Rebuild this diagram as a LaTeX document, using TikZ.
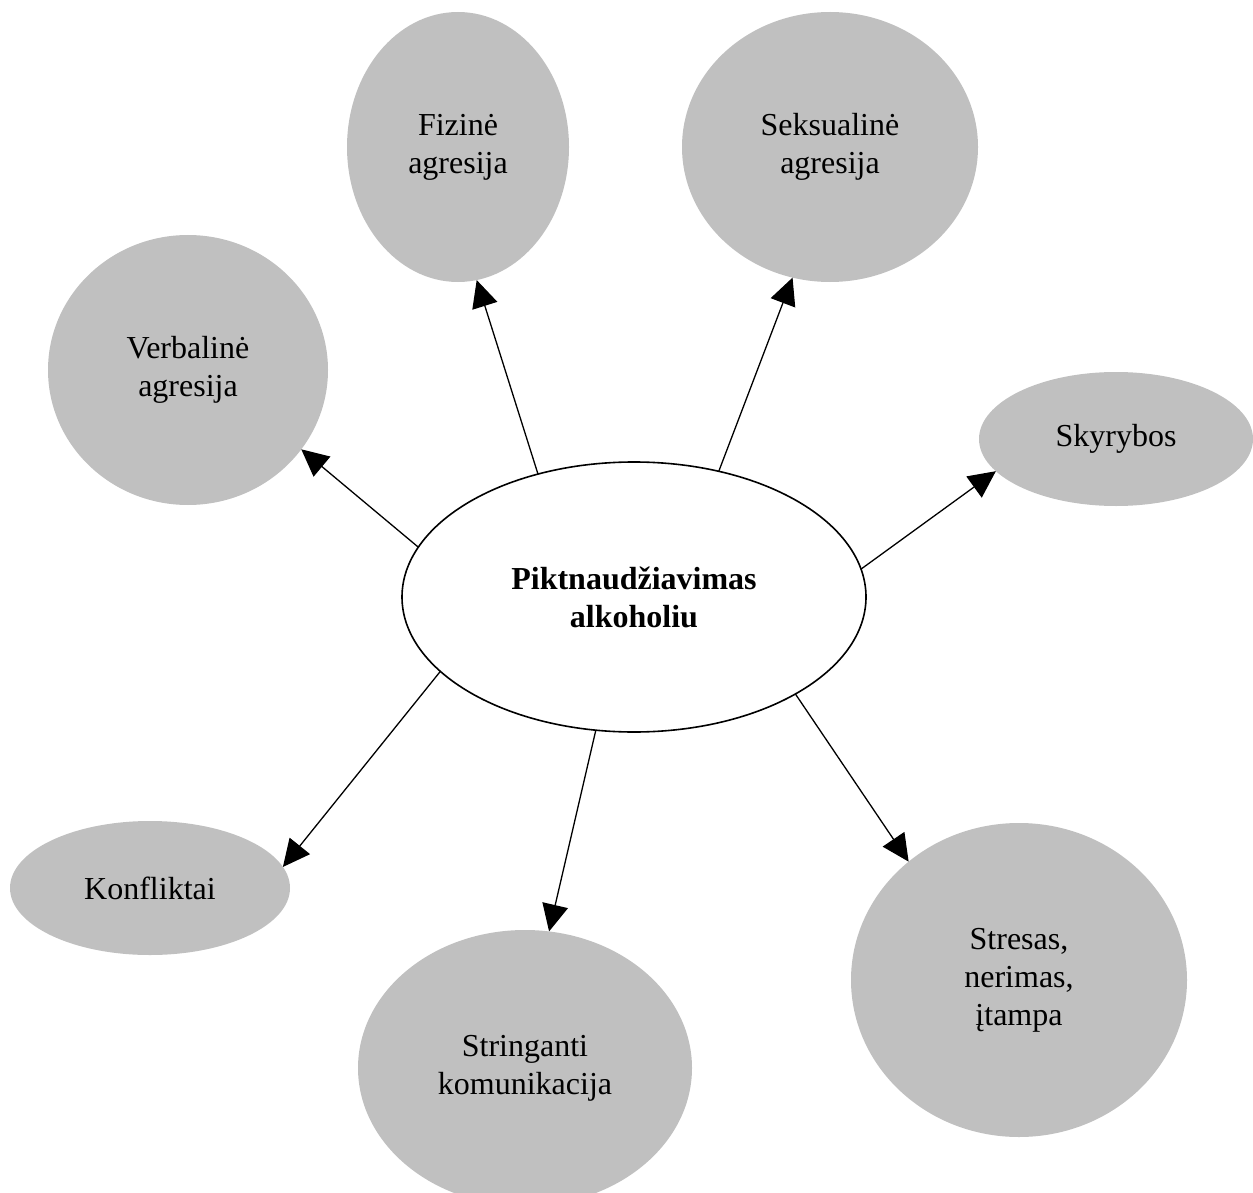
\documentclass[tikz,border=0pt]{standalone}
\usepackage{fontspec}
\setmainfont{Liberation Serif}
\usetikzlibrary{shapes.geometric,arrows.meta}
\definecolor{bubblegray}{RGB}{192,192,192}
\begin{document}
\begin{tikzpicture}[x=1pt,y=-1pt,
  bubble/.style={ellipse,fill=bubblegray,inner sep=0pt,outer sep=0pt,align=center,
    font=\fontsize{32}{38}\selectfont},
  hub/.style={ellipse,draw,line width=1.6pt,fill=white,inner sep=0pt,outer sep=0pt,
    align=center,font=\bfseries\fontsize{32}{38}\selectfont},
  link/.style={line width=1.3pt,-{Triangle[length=27pt,width=26pt]}}]
\useasboundingbox (0,0) rectangle (1253,1193);
\clip (0,0) rectangle (1253,1193);
\node[hub,minimum width=464pt,minimum height=270pt] (C) at (634,597) {Piktnaudžiavimas\\alkoholiu};
\node[bubble,minimum width=222pt,minimum height=270pt] (F) at (458,147) {Fizinė\\agresija};
\node[bubble,minimum width=296pt,minimum height=270pt] (S) at (830,147) {Seksualinė\\agresija};
\node[bubble,minimum width=280pt,minimum height=270pt] (V) at (188,370) {Verbalinė\\agresija};
\node[bubble,minimum width=274pt,minimum height=134pt] (Sk) at (1116,439) {Skyrybos};
\node[bubble,minimum width=280pt,minimum height=134pt] (K) at (150,888) {Konfliktai};
\node[bubble,minimum width=334pt,minimum height=276pt] (St) at (525,1068) {Stringanti\\komunikacija};
\node[bubble,minimum width=336pt,minimum height=314pt] (Sr) at (1019,980) {Stresas,\\nerimas,\\įtampa};
\draw[link] (C.128.9) -- (F.278);
\draw[link] (C.56.4) -- (S.254.7);
\draw[link] (C.167.1) -- (V.325.6);
\draw[link] (C.7.7) -- (Sk.195.6);
\draw[link] (C.201.9) -- (K.9.3);
\draw[link] (C.254.9) -- (St.80.1);
\draw[link] (C.329.6) -- (Sr.133.0);
\end{tikzpicture}
\end{document}
